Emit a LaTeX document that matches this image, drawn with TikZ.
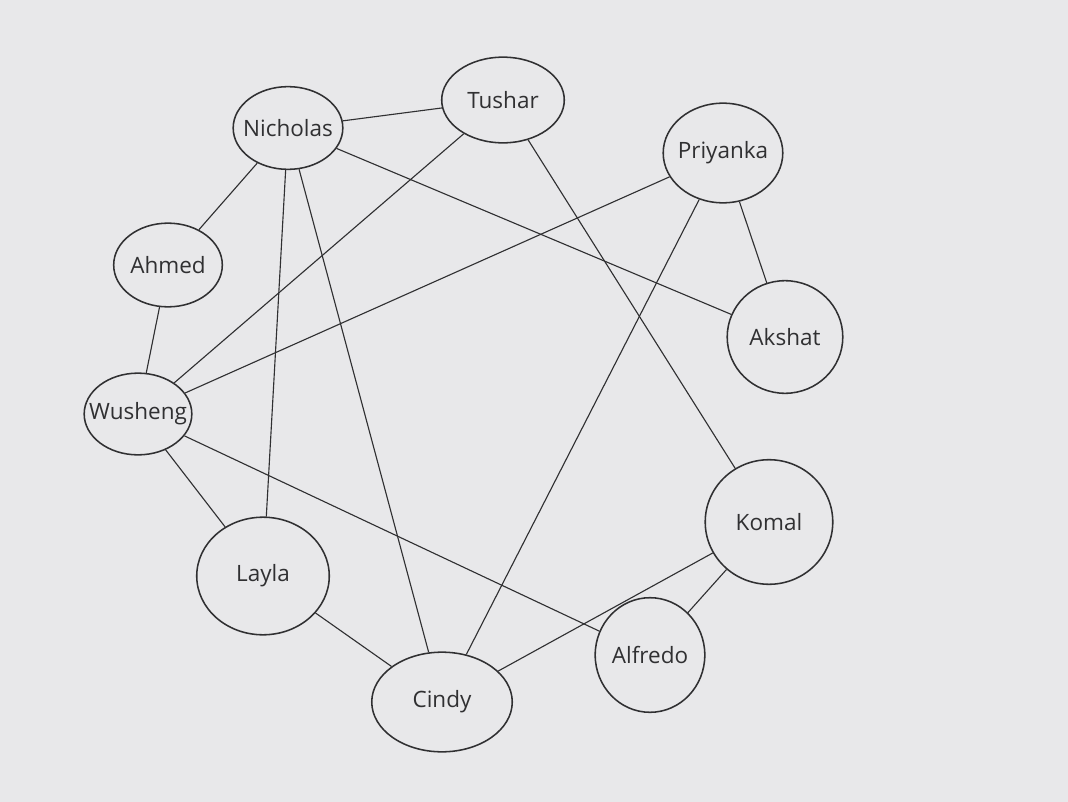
\documentclass[tikz,border=0pt]{standalone}
\usepackage{fontspec}
\setmainfont{Open Sans}
\usepackage{xcolor}
\usepackage{tikz}
\usetikzlibrary{shapes.geometric}

\definecolor{paper}{RGB}{232,232,234}
\definecolor{pencil}{RGB}{48,48,50}

\def \pxl {0.7087pt} % one pixel of the sheet

\tikzset{
  person/.style={draw=pencil, ellipse, line width=1.1pt, inner sep=-20pt,
    text=pencil, font=\fontsize{16}{19}\selectfont},
  tie/.style={draw=pencil, line width=0.8pt}
}

\begin{document}
\begin{tikzpicture}[x=0.025cm, y=-0.025cm]
\def \w {1068}
\def \h {802}

\fill[paper] (0,0) rectangle (\w,\h);
\useasboundingbox (0,0) rectangle (\w,\h);

% people
\node[person, minimum width=110*\pxl, minimum height=83*\pxl] (nicholas) at (288,128) {Nicholas};
\node[person, minimum width=123*\pxl, minimum height=86*\pxl] (tushar) at (503,100) {Tushar};
\node[person, minimum width=120*\pxl, minimum height=100*\pxl] (priyanka) at (723,153) {Priyanka};
\node[person, minimum width=116*\pxl, minimum height=113*\pxl] (akshat) at (785,337) {Akshat};
\node[person, minimum width=109*\pxl, minimum height=84*\pxl] (ahmed) at (168,265) {Ahmed};
\node[person, minimum width=108*\pxl, minimum height=82*\pxl] (wusheng) at (138,414) {Wusheng};
\node[person, minimum width=133*\pxl, minimum height=118*\pxl] (layla) at (263,576) {Layla};
\node[person, minimum width=141*\pxl, minimum height=100*\pxl] (cindy) at (442,702) {Cindy};
\node[person, minimum width=128*\pxl, minimum height=125*\pxl] (komal) at (769,522) {Komal};
\node[person, minimum width=110*\pxl, minimum height=115*\pxl] (alfredo) at (650,655) {Alfredo};

% who knows whom
\foreach \a/\b in {nicholas/tushar, nicholas/ahmed, nicholas/layla, nicholas/cindy,
  nicholas/akshat, tushar/wusheng, tushar/komal, priyanka/wusheng, priyanka/akshat,
  priyanka/cindy, ahmed/wusheng, wusheng/layla, wusheng/alfredo, layla/cindy,
  cindy/komal, komal/alfredo}
{
  \draw[tie] (\a) -- (\b);
}
\end{tikzpicture}
\end{document}
